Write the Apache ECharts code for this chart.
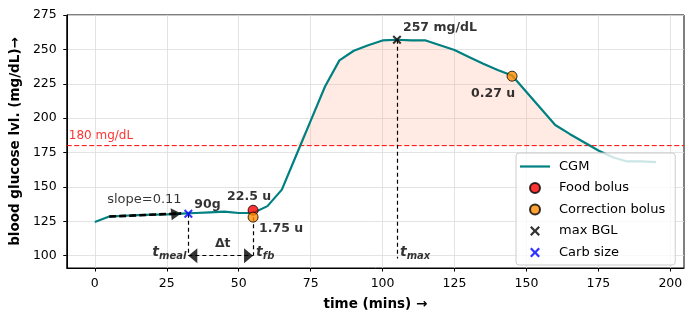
<!DOCTYPE html>
<html>
<head>
<meta charset="utf-8">
<script src="https://cdn.jsdelivr.net/npm/echarts@6/dist/echarts.min.js"></script>
<style>
html, body { margin: 0; padding: 0; background: #fff; }
#main { width: 695px; height: 322px; }
</style>
</head>
<body>
<div id="main"></div>
<script>
// CGM readings every 5 minutes
var times = [0, 5, 10, 15, 20, 25, 30, 35, 40, 45, 50, 55, 60, 65, 70, 75, 80, 85, 90, 95,
	100, 105, 110, 115, 120, 125, 130, 135, 140, 145, 150, 155, 160, 165, 170, 175, 180, 185, 190, 195];
var cgm = [124.5, 128.4, 129, 129.5, 129.8, 130, 130.5, 131, 131.5, 132, 131, 131, 136, 148, 173, 198, 223, 242, 249, 253,
	256.5, 257, 256.5, 256.5, 253, 249.5, 244.5, 239.5, 235, 231, 219, 207, 195, 188.5, 182.5, 176.5, 171.5, 168.5, 168.5, 168];

var xTicks = [0, 25, 50, 75, 100, 125, 150, 175, 200];
var yTicks = [100, 125, 150, 175, 200, 225, 250, 275];
var xMin = -9.75, xMax = 204.75;
var yMin = 91, yMax = 275;
var threshold = 180;

var foodBolus = [[55, 133]];
var foodBolusText = ['22.5 u'];
var corrBolus = [[55, 128], [145, 230.5]];
var corrBolusText = ['1.75 u', '0.27 u'];
var maxBgl = [[105, 257]];
var maxBglText = '257 mg/dL';
var carbSize = [[32.5, 130.5]];
var carbText = '90g';
var slopeFrom = [5, 128.4];
var slopeTo = [30, 130.7];
var slopeText = 'slope=0.11';
var tMeal = 32.5, tFb = 55, tMax = 105;
var baseY = 100;

var font = 'DejaVu Sans';
var xMark = 'path://M0,1.6 L1.6,0 L5,3.4 L8.4,0 L10,1.6 L6.6,5 L10,8.4 L8.4,10 L5,6.6 L1.6,10 L0,8.4 L3.4,5 Z';

// empty line series only used to carry a markLine
function guide(lines, lineStyle) {
	return {
		type: 'line', data: [], silent: true, z: 4,
		markLine: {
			silent: true, animation: false, symbol: 'none',
			label: {show: false},
			lineStyle: lineStyle,
			data: lines.map(function (l) { return [{coord: l[0]}, {coord: l[1]}] })
		}
	}
}

window.onload = function () {
	var chart = echarts.init(document.getElementById('main'));

	var cgmData = times.map(function (t, i) { return [t, cgm[i]] });
	var shadeData = times.map(function (t, i) { return [t, Math.max(cgm[i], threshold)] });

	var bold = {fontFamily: font, fontWeight: 'bold', fontSize: 12.5, color: '#000'};
	function txt(pos, text, position, distance, offset, extra) {
		return {
			value: pos,
			label: Object.assign({show: true, formatter: text, position: position, distance: distance, offset: offset}, bold, extra || {})
		}
	}
	var tRich = {
		t: {fontFamily: font, fontStyle: 'italic', fontSize: 14, color: '#000'},
		s: {fontFamily: font, fontStyle: 'italic', fontSize: 10, color: '#000', padding: [7, 0, 0, 0]}
	};

	var annotations = [
		txt(maxBgl[0], maxBglText, 'right', 6, [0, -12]),
		txt(corrBolus[1], corrBolusText[1], 'inside', 0, [-19, 18]),
		txt(foodBolus[0], foodBolusText[0], 'inside', 0, [-4, -14]),
		txt(corrBolus[0], corrBolusText[0], 'right', 6, [0, 12]),
		txt(carbSize[0], carbText, 'right', 6, [0, -9]),
		txt(slopeFrom, slopeText, 'right', 0, [-2, -17], {fontWeight: 'normal', fontSize: 13}),
		txt([(tMeal + tFb) / 2, baseY], 'Δt', 'inside', 0, [2, -12]),
		txt([xMin, threshold], threshold + ' mg/dL', 'right', 2, [0, -10], {fontWeight: 'normal', color: '#ff0000', fontSize: 12}),
		txt([tMeal, baseY], '{t|t}{s|meal}', 'left', 2, [0, -3], {rich: tRich}),
		txt([tFb, baseY], '{t|t}{s|fb}', 'right', 3, [0, -3], {rich: tRich}),
		txt([tMax, baseY], '{t|t}{s|max}', 'right', 3, [0, -3], {rich: tRich})
	];

	// arrow heads, tip sitting on the end point
	var heads = [
		{value: [tMeal, baseY], symbolRotate: 90, symbolOffset: [4.5, 0]},
		{value: [tFb, baseY], symbolRotate: -90, symbolOffset: [-4.5, 0]},
		{value: slopeTo, symbolRotate: -85, symbolOffset: [-5, 0.4], symbolSize: [12, 10]}
	];

	var dash = {color: '#000', type: [4, 3], width: 1.2};
	var option = {
		animation: false,
		grid: {
			left: 66, right: 11, top: 15, bottom: 54,
			show: true, borderColor: '#000', borderWidth: 1
		},
		legend: {
			orient: 'vertical',
			left: 516, top: 153,
			padding: [7, 10, 6, 4],
			itemWidth: 30, itemHeight: 10, itemGap: 8.5,
			backgroundColor: 'rgba(255,255,255,0.8)',
			borderColor: '#cccccc', borderWidth: 1, borderRadius: 3,
			textStyle: {fontFamily: font, fontSize: 13, color: '#000', padding: [0, 0, 0, 4]},
			data: [
				{name: 'CGM', icon: 'path://M0,0 L30,0 L30,2.2 L0,2.2 Z'},
				'Food bolus', 'Correction bolus', 'max BGL', 'Carb size'
			]
		},
		xAxis: {
			type: 'value', min: xMin, max: xMax,
			name: 'time (mins) →', nameLocation: 'middle', nameGap: 29,
			nameTextStyle: {fontFamily: font, fontWeight: 'bold', fontSize: 13.5, color: '#000'},
			axisLine: {onZero: false, lineStyle: {color: '#000'}},
			axisTick: {show: true, length: 3.5, customValues: xTicks, lineStyle: {color: '#000'}},
			axisLabel: {customValues: xTicks, fontFamily: font, fontSize: 12.5, color: '#000', margin: 9},
			splitLine: {show: true, lineStyle: {color: '#dcdcdc', width: 0.8}}
		},
		yAxis: {
			type: 'value', min: yMin, max: yMax,
			name: 'blood glucose lvl. (mg/dL)→', nameLocation: 'middle', nameGap: 44,
			nameTextStyle: {fontFamily: font, fontWeight: 'bold', fontSize: 13.5, color: '#000'},
			axisLine: {show: true, onZero: false, lineStyle: {color: '#000'}},
			axisTick: {show: true, length: 3.5, customValues: yTicks, lineStyle: {color: '#000'}},
			axisLabel: {customValues: yTicks, fontFamily: font, fontSize: 12.5, color: '#000', margin: 10},
			splitLine: {show: true, lineStyle: {color: '#dcdcdc', width: 0.8}}
		},
		series: [
			{
				name: 'shade', type: 'line', data: shadeData, symbol: 'none', silent: true,
				lineStyle: {width: 0}, z: 1,
				areaStyle: {origin: threshold, color: 'rgba(255,160,122,0.3)'}
			},
			{
				name: 'limit', type: 'line', data: [[xMin, threshold], [xMax, threshold]], symbol: 'none', silent: true, z: 2,
				lineStyle: {color: '#ff0000', type: [5, 2.5], width: 1}
			},
			{
				name: 'CGM', type: 'line', data: cgmData, symbol: 'none', z: 3,
				itemStyle: {color: '#008080'},
				lineStyle: {color: '#008080', width: 2.2}
			},
			guide([
				[maxBgl[0], [tMax, baseY - 2]],
				[carbSize[0], [tMeal, baseY]],
				[corrBolus[0], [tFb, baseY]],
				[[tMeal, baseY], [tFb, baseY]]
			], dash),
			guide([[slopeFrom, slopeTo]], {color: '#000', type: [7, 3], width: 2.6}),
			{
				name: 'heads', type: 'scatter', data: heads, symbol: 'triangle', symbolSize: [15, 9], silent: true, z: 4,
				itemStyle: {color: '#000'}
			},
			{
				name: 'Food bolus', type: 'scatter', data: foodBolus, symbol: 'circle', symbolSize: 10, z: 5,
				itemStyle: {color: '#ff0000', borderColor: '#000', borderWidth: 1}
			},
			{
				name: 'Correction bolus', type: 'scatter', data: corrBolus, symbol: 'circle', symbolSize: 10, z: 5,
				itemStyle: {color: '#ff8c00', borderColor: '#000', borderWidth: 1}
			},
			{
				name: 'max BGL', type: 'scatter', data: maxBgl, symbol: xMark, symbolSize: 9, z: 5,
				itemStyle: {color: '#000'}
			},
			{
				name: 'Carb size', type: 'scatter', data: carbSize, symbol: xMark, symbolSize: 9, z: 5,
				itemStyle: {color: '#0000ff'}
			},
			{
				name: 'notes', type: 'scatter', data: annotations, symbolSize: 0, silent: true, z: 6
			}
		]
	};
	chart.setOption(option);
};
</script>
</body>
</html>
